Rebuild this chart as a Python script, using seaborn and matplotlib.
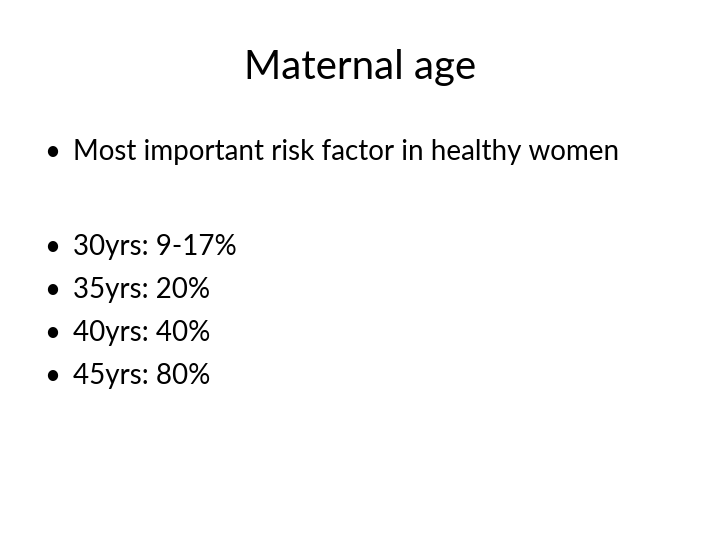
import matplotlib
matplotlib.use("Agg")
import matplotlib.pyplot as plt
import seaborn as sns

sns.set_theme(style="white")
plt.rcParams['font.family'] = ['Lato', 'DejaVu Sans']

title = "Maternal age"
bullets = ["Most important risk factor in healthy women",
           "30yrs: 9-17%", "35yrs: 20%", "40yrs: 40%", "45yrs: 80%"]
bullet_y_px = [152, 247, 290, 333, 376]

fig = plt.figure(figsize=(7.2, 5.4), dpi=100)
fig.patch.set_facecolor("white")
H = 540.0
fig.text(360/720, 1 - 68/H, title, ha="center", va="center", fontsize=29, color="black")
for txt, y in zip(bullets, bullet_y_px):
    fig.text(44/720, 1 - y/H, "•", ha="left", va="center", fontsize=20, color="black")
    fig.text(73/720, 1 - y/H, txt, ha="left", va="center", fontsize=20, color="black")
fig.savefig("out.png", dpi=100, facecolor="white")
